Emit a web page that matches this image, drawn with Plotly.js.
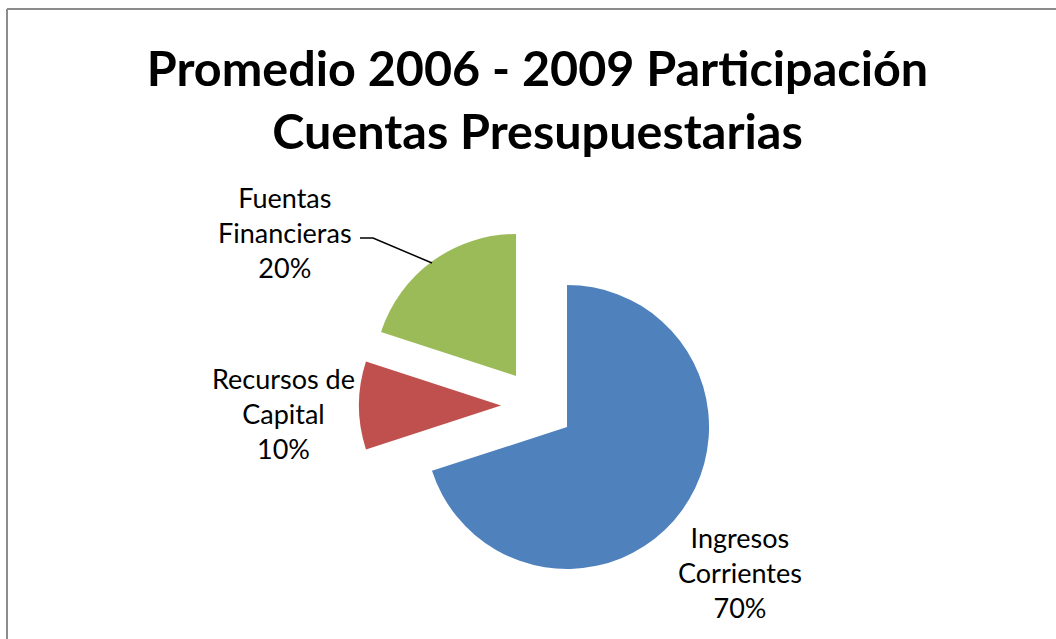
<!DOCTYPE html>
<html>
<head>
<meta charset="utf-8">
<script src="https://cdn.plot.ly/plotly-3.0.1.min.js"></script>
<style>html,body{margin:0;padding:0;background:#fff;}#chart{width:1056px;height:639px;}</style>
</head>
<body>
<div id="chart"></div>
<script>
const categories = ["Ingresos Corrientes", "Recursos de Capital", "Fuentes Financieras"];
const labelLines = [["Ingresos", "Corrientes"], ["Recursos de", "Capital"], ["Fuentas", "Financieras"]];
const values = [70, 10, 20];
const colors = ["#4F81BD", "#C0504D", "#9BBB59"];
const titleText = "Promedio 2006 - 2009 Participación<br>Cuentas Presupuestarias";

const total = values.reduce((a, b) => a + b, 0);
const W = 1056, H = 639;
const px = x => x / W, py = y => 1 - y / H;

// label anchor positions (pixels) for each slice's label block
const labelPos = [[740, 572], [283, 413], [285, 232]];

const annotations = categories.map((c, i) => ({
  text: labelLines[i].join("<br>") + "<br>" + Math.round(values[i] / total * 100) + "%",
  x: px(labelPos[i][0]), y: py(labelPos[i][1]),
  xref: "paper", yref: "paper", xanchor: "center", yanchor: "middle",
  showarrow: false, align: "center",
  font: {family: "Lato, 'Open Sans', sans-serif", size: 27, color: "#000"}
}));

const shapes = [
  {type: "line", xref: "paper", yref: "paper", x0: px(7), y0: py(9), x1: px(1056), y1: py(9), line: {color: "#8C8C8C", width: 2}},
  {type: "line", xref: "paper", yref: "paper", x0: px(7), y0: py(9), x1: px(7), y1: py(639), line: {color: "#8C8C8C", width: 2}},
  {type: "path", xref: "paper", yref: "paper",
   path: `M ${px(360)} ${py(238)} L ${px(373)} ${py(238)} L ${px(432)} ${py(263)}`,
   line: {color: "#000", width: 1.5}}
];

const data = [{
  type: "pie",
  labels: categories,
  values: values,
  marker: {colors: colors, line: {width: 0}},
  sort: false,
  direction: "clockwise",
  rotation: 0,
  pull: [0.257, 0.257, 0.257],
  textinfo: "none",
  hoverinfo: "label+percent",
  showlegend: false,
  domain: {x: [0.309, 0.709], y: [55 / 639, 1 - 227 / 639]}
}];

const layout = {
  width: W, height: H,
  margin: {l: 0, r: 0, t: 0, b: 0},
  paper_bgcolor: "#fff",
  showlegend: false,
  title: {
    text: titleText,
    x: 0.509, xanchor: "center", xref: "paper",
    y: 1 - 86 / 639, yanchor: "middle", yref: "container",
    font: {family: "Lato, 'Open Sans', sans-serif", size: 48.5, color: "#000", weight: "bold"}
  },
  annotations: annotations,
  shapes: shapes
};

Plotly.newPlot("chart", data, layout, {displayModeBar: false});
</script>
</body>
</html>
